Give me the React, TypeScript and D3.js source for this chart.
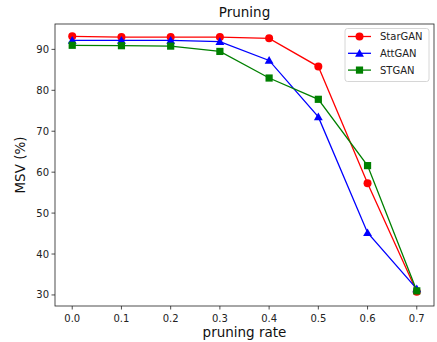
import * as d3 from "d3";

const rates = [0.0, 0.1, 0.2, 0.3, 0.4, 0.5, 0.6, 0.7];
const starGAN = [93.2, 93.0, 93.0, 93.0, 92.7, 85.8, 57.3, 30.8];
const attGAN = [92.2, 92.2, 92.2, 91.9, 87.3, 73.5, 45.2, 31.5];
const stGAN = [91.0, 90.9, 90.8, 89.5, 83.0, 77.8, 61.6, 31.0];
const xTicks = [0.0, 0.1, 0.2, 0.3, 0.4, 0.5, 0.6, 0.7];
const yTicks = [30, 40, 50, 60, 70, 80, 90];

const seriesList = [
  { name: "StarGAN", values: starGAN, color: "#ff0000", marker: "circle" },
  { name: "AttGAN", values: attGAN, color: "#0000ff", marker: "triangle" },
  { name: "STGAN", values: stGAN, color: "#008000", marker: "square" },
];

const width = 437;
const height = 342;
const left = 55, right = 434, top = 24, bottom = 306;
const font = "DejaVu Sans, sans-serif";

function Marker({ type, x, y, color }) {
  if (type === "circle") return <circle cx={x} cy={y} r={4} fill={color} />;
  if (type === "square") return <rect x={x - 3.6} y={y - 3.6} width={7.2} height={7.2} fill={color} />;
  const s = d3.symbol().type(d3.symbolTriangle).size(34)();
  return <path d={s} transform={`translate(${x},${y + 0.8})`} fill={color} />;
}

export default function App() {
  const x = d3.scaleLinear().domain([-0.035, 0.735]).range([left, right]);
  const y = d3.scaleLinear().domain([27.3, 96.2]).range([bottom, top]);
  const line = d3.line<number>().x((d, i) => x(rates[i])).y(d => y(d));

  return (
    <svg width={width} height={height} style={{ position: "absolute", left: 0, top: 0, background: "#fff" }}>
      <text x={(left + right) / 2} y={17} textAnchor="middle" fontFamily={font} fontSize={13.5} fill="#111">Pruning</text>

      {seriesList.map(s => (
        <g key={s.name}>
          <path d={line(s.values) || ""} fill="none" stroke={s.color} strokeWidth={1.3} />
          {s.values.map((v, i) => (
            <Marker key={i} type={s.marker} x={x(rates[i])} y={y(v)} color={s.color} />
          ))}
        </g>
      ))}

      <rect x={left} y={top} width={right - left} height={bottom - top} fill="none" stroke="#222" strokeWidth={0.8} />

      {xTicks.map(t => (
        <g key={t} transform={`translate(${x(t)},${bottom})`}>
          <line y2={3.5} stroke="#222" strokeWidth={0.8} />
          <text y={15.5} textAnchor="middle" fontFamily={font} fontSize={10} fill="#222">{t.toFixed(1)}</text>
        </g>
      ))}
      {yTicks.map(t => (
        <g key={t} transform={`translate(${left},${y(t)})`}>
          <line x2={-3.5} stroke="#222" strokeWidth={0.8} />
          <text x={-6} dy="0.35em" textAnchor="end" fontFamily={font} fontSize={10} fill="#222">{t}</text>
        </g>
      ))}

      <text x={(left + right) / 2} y={337} textAnchor="middle" fontFamily={font} fontSize={13.5} fill="#111">pruning rate</text>
      <text transform={`translate(25,${(top + bottom) / 2}) rotate(-90)`} textAnchor="middle" fontFamily={font} fontSize={13.5} fill="#111">MSV (%)</text>

      <g>
        <rect x={345} y={28.5} width={84} height={53} rx={2.5} fill="#fff" fillOpacity={0.8} stroke="#ccc" strokeWidth={0.8} />
        {seriesList.map((s, i) => {
          const ly = 36.5 + i * 16.8;
          return (
            <g key={s.name}>
              <line x1={348} x2={371} y1={ly} y2={ly} stroke={s.color} strokeWidth={1.3} />
              <Marker type={s.marker} x={359.5} y={ly} color={s.color} />
              <text x={380} y={ly} dy="0.35em" fontFamily={font} fontSize={10} fill="#222">{s.name}</text>
            </g>
          );
        })}
      </g>
    </svg>
  );
}
